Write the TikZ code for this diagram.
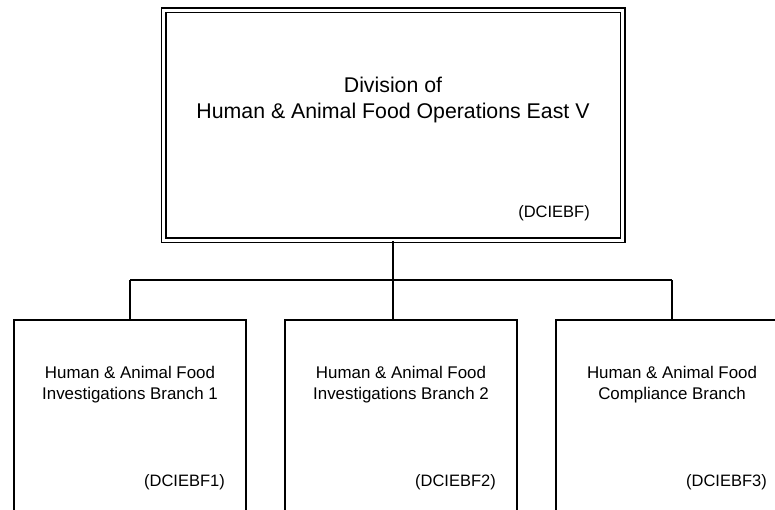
\documentclass[tikz,border=0pt]{standalone}
\usepackage{fontspec}
\setmainfont{Liberation Sans}
\usetikzlibrary{positioning}

\tikzset{
    divbox/.style={draw, double, line width=1.5pt, double distance=3pt,
        minimum width=459pt, minimum height=230pt, inner sep=0pt},
    branchbox/.style={draw, line width=2pt, minimum width=232pt,
        minimum height=240pt, inner sep=0pt, anchor=north},
    divtitle/.style={align=center, inner sep=0pt, anchor=base,
        font=\fontsize{21.3}{26}\selectfont},
    brtitle/.style={align=center, inner sep=0pt, anchor=base,
        font=\fontsize{16.9}{21}\selectfont},
    orgcode/.style={inner sep=0pt, anchor=base east,
        font=\fontsize{16.5}{20}\selectfont},
    link/.style={line width=2pt}
}

\begin{document}
\begin{tikzpicture}[x=1pt, y=-1pt]
        \useasboundingbox (0,0) rectangle (775,509);
        \clip (0,0) rectangle (775,509);

        \node[divbox] (div) at (393,125) {};
        \node[divtitle] (divname) at (393,118.5) {Division of\\Human \& Animal Food Operations East V};
        \node[orgcode] (divcode) at (590,217) {(DCIEBF)};

        \node[branchbox] (br1) at (130,319) {};
        \node[branchbox] (br2) at (401,319) {};
        \node[branchbox] (br3) at (672,319) {};

        \node[brtitle] (br1name) at (130,399) {Human \& Animal Food\\Investigations Branch 1};
        \node[brtitle] (br2name) at (401,399) {Human \& Animal Food\\Investigations Branch 2};
        \node[brtitle] (br3name) at (672,399) {Human \& Animal Food\\Compliance Branch};

        \node[orgcode] (br1code) at (225,486) {(DCIEBF1)};
        \node[orgcode] (br2code) at (496,486) {(DCIEBF2)};
        \node[orgcode] (br3code) at (767,486) {(DCIEBF3)};

        \coordinate (busL) at (130,280);
        \coordinate (busM) at (393,280);
        \coordinate (busR) at (672,280);

        \draw[link] (div.south) -- (busM);
        \draw[link] (busL) -- (busR);
        \draw[link] (busL) -- (br1.north);
        \draw[link] (busM) -- (busM |- br2.north);
        \draw[link] (busR) -- (br3.north);
    \end{tikzpicture}
\end{document}
